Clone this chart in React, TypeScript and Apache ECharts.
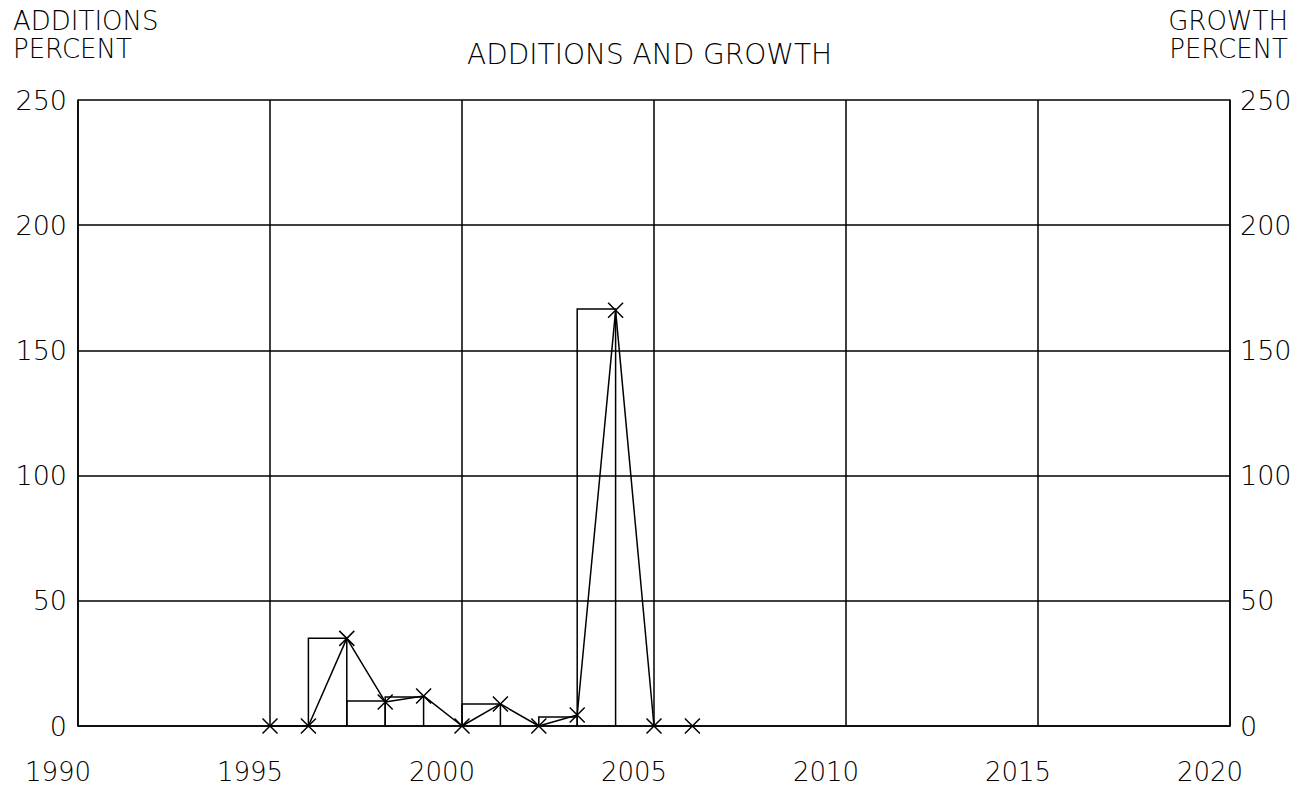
import React, { useEffect, useRef } from "react";
import * as echarts from "echarts";

const xTicks = [1990, 1995, 2000, 2005, 2010, 2015, 2020];
const yTicks = [0, 50, 100, 150, 200, 250];
const growthYears = [1995, 1996, 1997, 1998, 1999, 2000, 2001, 2002, 2003, 2004, 2005, 2006];
const growthValues = [0, 0, 35, 9.6, 12, 0, 8.8, 0, 4.4, 166, 0, 0];
const additionYears = [1997, 1998, 1999, 2001, 2003, 2004];
const additionValues = [35, 10, 11.6, 8.8, 3.6, 166.5];

const FONT = "DejaVu Sans";
const W = 200;

export default function App() {
  const ref = useRef<HTMLDivElement>(null);
  useEffect(() => {
    if (!ref.current) return;
    const chart = echarts.init(ref.current, null, { renderer: "svg" });
    const xPath = "path://M0,0L10,10M10,0L0,10";
    const txt = (text: string, pos: any, size = 26) => ({
      type: "text",
      ...pos,
      style: { text, font: `${W} ${size}px "${FONT}"`, lineHeight: 26, fill: "#000" },
    });
    const option: any = {
      animation: false,
      backgroundColor: "#fff",
      grid: { left: 78, right: 68, top: 100, bottom: 62, containLabel: false },
      graphic: [
        txt("ADDITIONS AND GROWTH", { left: 467, top: 40 }, 28),
        txt("ADDITIONS", { left: 13, top: 8 }),
        txt("PERCENT", { left: 13, top: 36 }),
        txt("GROWTH", { right: 10, top: 8 }),
        txt("PERCENT", { right: 10, top: 36 }),
      ],
      xAxis: {
        type: "value",
        min: xTicks[0],
        max: xTicks[xTicks.length - 1],
        interval: 5,
        axisLine: { show: true, onZero: false, lineStyle: { color: "#000", width: 1.5 } },
        axisTick: { show: false },
        splitLine: { show: true, lineStyle: { color: "#000", width: 1.5 } },
        axisLabel: {
          color: "#000",
          fontFamily: FONT,
          fontWeight: W,
          fontSize: 26,
          lineHeight: 24,
          margin: 34,
          formatter: (v: number) => `{t|${v}}{s|}`,
          rich: {
            t: { fontFamily: FONT, fontWeight: W, fontSize: 26, lineHeight: 24, color: "#000" },
            s: { width: 40, lineHeight: 24 },
          },
        },
      },
      yAxis: [
        {
          type: "value",
          min: yTicks[0],
          max: yTicks[yTicks.length - 1],
          interval: 50,
          position: "left",
          axisLine: { show: true, lineStyle: { color: "#000", width: 1.5 } },
          axisTick: { show: false },
          splitLine: { show: true, lineStyle: { color: "#000", width: 1.5 } },
          axisLabel: { color: "#000", fontFamily: FONT, fontWeight: W, fontSize: 27, margin: 11 },
        },
        {
          type: "value",
          min: yTicks[0],
          max: yTicks[yTicks.length - 1],
          interval: 50,
          position: "right",
          axisLine: { show: true, lineStyle: { color: "#000", width: 1.5 } },
          axisTick: { show: false },
          splitLine: { show: false },
          axisLabel: { color: "#000", fontFamily: FONT, fontWeight: W, fontSize: 27, margin: 10 },
        },
      ],
      series: [
        {
          type: "custom",
          yAxisIndex: 0,
          data: additionYears.map((y, i) => [y, additionValues[i]]),
          renderItem: (params: any, api: any) => {
            const yr = api.value(0);
            const v = api.value(1);
            const p0 = api.coord([yr - 1, v]);
            const p1 = api.coord([yr, 0]);
            return {
              type: "polyline",
              shape: { points: [[p0[0], p1[1]], [p0[0], p0[1]], [p1[0], p0[1]], [p1[0], p1[1]]] },
              style: { stroke: "#000", lineWidth: 1.5, fill: "none" },
            };
          },
          z: 3,
        },
        {
          type: "line",
          yAxisIndex: 1,
          data: growthYears.map((y, i) => [y, growthValues[i]]),
          symbol: xPath,
          symbolSize: 15,
          showAllSymbol: true,
          lineStyle: { color: "#000", width: 1.5 },
          itemStyle: { color: "none", borderColor: "#000", borderWidth: 1.5 },
          z: 4,
        },
      ],
    };
    chart.setOption(option);
    return () => chart.dispose();
  }, []);
  return (
    <div
      ref={ref}
      style={{ position: "fixed", left: 0, top: 0, width: 1298, height: 788, background: "#fff" }}
    />
  );
}
